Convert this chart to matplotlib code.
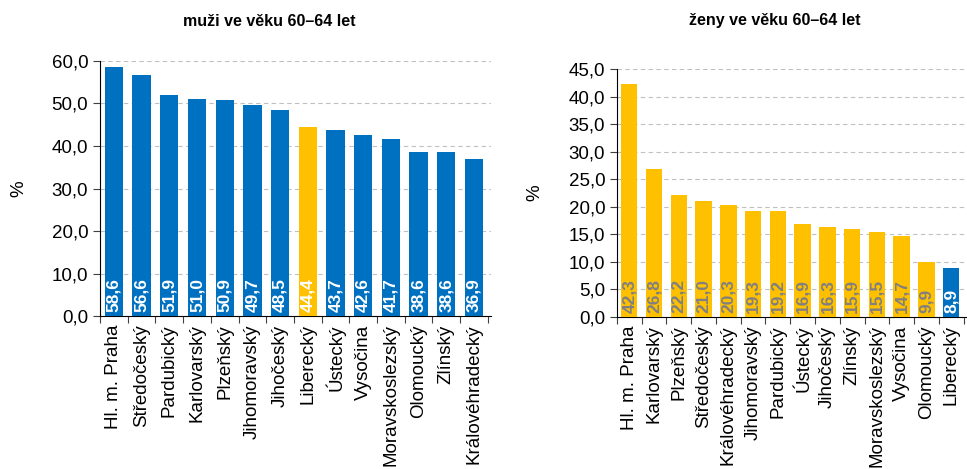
import numpy as np
import matplotlib.pyplot as plt

# data
muzi_kraje = ['Hl. m. Praha', 'Středočeský', 'Pardubický', 'Karlovarský', 'Plzeňský',
              'Jihomoravský', 'Jihočeský', 'Liberecký', 'Ústecký', 'Vysočina',
              'Moravskoslezský', 'Olomoucký', 'Zlínský', 'Královéhradecký']
muzi_hodnoty = [58.6, 56.6, 51.9, 51.0, 50.9, 49.7, 48.5, 44.4, 43.7, 42.6, 41.7, 38.6, 38.6, 36.9]

zeny_kraje = ['Hl. m. Praha', 'Karlovarský', 'Plzeňský', 'Středočeský', 'Královéhradecký',
              'Jihomoravský', 'Pardubický', 'Ústecký', 'Jihočeský', 'Zlínský',
              'Moravskoslezský', 'Vysočina', 'Olomoucký', 'Liberecký']
zeny_hodnoty = [42.3, 26.8, 22.2, 21.0, 20.3, 19.3, 19.2, 16.9, 16.3, 15.9, 15.5, 14.7, 9.9, 8.9]

BLUE = '#0070C0'
ORANGE = '#FFC000'
plt.rcParams['font.family'] = ['Liberation Sans', 'DejaVu Sans']

fig = plt.figure(figsize=(9.67, 4.69), dpi=100)
ax1 = fig.add_axes([0.1034, 0.326, 0.404, 0.544])
ax2 = fig.add_axes([0.638, 0.324, 0.361, 0.529])


def draw(ax, kraje, hodnoty, base, highlight, ymax, step, txtcol, ylab_x):
    x = np.arange(len(kraje))
    colors = [highlight if k == 'Liberecký' else base for k in kraje]
    ax.bar(x, hodnoty, width=0.66, color=colors, zorder=3)
    # popisky hodnot dole ve sloupcích
    for xi, v, c in zip(x, hodnoty, colors):
        col = 'white' if c == BLUE else txtcol
        ax.annotate(f'{v:.1f}'.replace('.', ','), (xi, 0), xytext=(0, 3),
                    textcoords='offset points', rotation=90, ha='center', va='bottom',
                    color=col, fontsize=12.5, fontweight='bold', zorder=4)
    ax.set_xlim(-0.5, len(kraje) - 0.5 + 0.1)
    ax.set_ylim(0, ymax)
    yt = np.arange(0, ymax + 0.01, step)
    ax.set_yticks(yt)
    ax.set_yticklabels([f'{t:.1f}'.replace('.', ',') for t in yt], fontsize=13.5)
    ax.set_xticks(x)
    ax.set_xticklabels(kraje, rotation=90, fontsize=13.5)
    ax.set_xticks(np.arange(-0.5, len(kraje)), minor=True)
    ax.tick_params(axis='x', which='major', length=0, pad=6)
    ax.tick_params(axis='x', which='minor', length=5, width=0.8, color='#404040')
    ax.tick_params(axis='y', length=5, width=0.8, color='#404040')
    ax.yaxis.grid(True, linestyle=(0, (4, 3)), color='#c0c0c0', linewidth=0.8, zorder=0)
    for s in ['top', 'right']:
        ax.spines[s].set_visible(False)
    ax.spines['left'].set_linewidth(0.8)
    ax.spines['bottom'].set_linewidth(0.8)
    ax.set_ylabel('%', fontsize=13.5)
    ax.yaxis.set_label_coords(ylab_x, 0.5)


draw(ax1, muzi_kraje, muzi_hodnoty, BLUE, ORANGE, 60, 10, 'white', -0.185)
draw(ax2, zeny_kraje, zeny_hodnoty, ORANGE, BLUE, 45, 5, '#808080', -0.21)

fig.text(269 / 967, 1 - 21 / 469, 'muži ve věku 60–64 let', ha='center', va='center',
         fontsize=11.5, fontweight='bold')
fig.text(775 / 967, 1 - 21 / 469, 'ženy ve věku 60–64 let', ha='center', va='center',
         fontsize=11.5, fontweight='bold')

fig.savefig('out.png', dpi=100)
